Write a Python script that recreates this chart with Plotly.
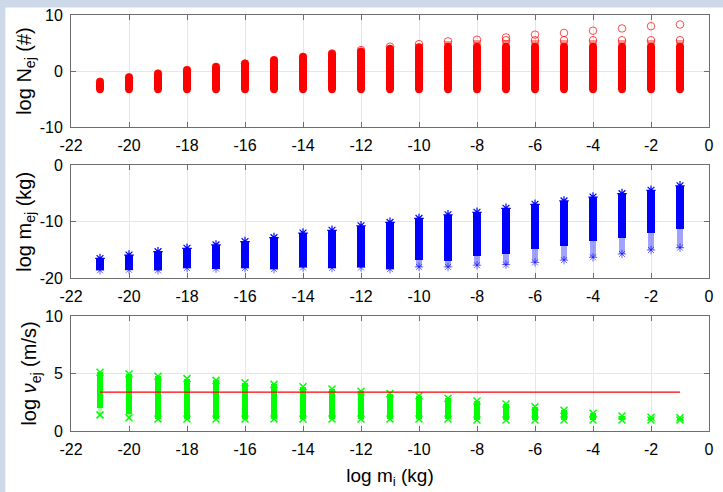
import plotly.graph_objects as go

# ---------------- data ----------------
mi = [-21, -20, -19, -18, -17, -16, -15, -14, -13, -12, -11,
      -10, -9, -8, -7, -6, -5, -4, -3, -2, -1]

# panel 1: log N_ej (#)
nej_min = [-3.3, -3.3, -3.3, -3.3, -3.3, -3.3, -3.3, -3.3, -3.3, -3.3, -3.3,
           -3.3, -3.3, -3.3, -3.3, -3.3, -3.3, -3.3, -3.3, -3.3, -3.3]
nej_dense_max = [-1.9, -1.1, -0.45, 0.2, 0.75, 1.35, 1.95, 2.55, 3.1, 3.55, 4.0,
                 4.3, 4.4, 4.4, 4.4, 4.4, 4.4, 4.4, 4.4, 4.4, 4.4]
nej_faded_max = [-1.9, -1.1, -0.45, 0.2, 0.75, 1.35, 1.95, 2.55, 3.15, 3.75, 4.35,
                 4.8, 5.3, 5.6, 5.5, 5.5, 5.5, 5.5, 5.5, 5.5, 5.5]
nej_out_x = [-7, -6, -5, -4, -3, -2, -1]
nej_out_y = [6.0, 6.5, 6.8, 7.2, 7.6, 8.0, 8.3]

# panel 2: log m_ej (kg)
mej_max = [-16.5, -15.9, -15.3, -14.7, -14.1, -13.5, -12.8, -12.0, -11.5, -10.7, -10.1,
           -9.4, -8.75, -8.3, -7.6, -6.9, -6.3, -5.6, -5.0, -4.4, -3.6]
mej_dense_min = [-18.6, -18.5, -18.6, -18.2, -18.3, -18.2, -18.4, -18.1, -18.2, -18.1, -18.4,
                 -16.8, -17.0, -16.0, -15.7, -14.8, -14.3, -13.4, -12.8, -11.9, -11.3]
mej_tail_min = [-18.6, -18.5, -18.6, -18.2, -18.3, -18.2, -18.4, -18.1, -18.2, -18.1, -18.4,
                -18.0, -18.0, -17.7, -17.6, -17.2, -16.8, -16.3, -15.7, -15.0, -14.6]

# panel 3: log v_ej (m/s)
vej_max = [5.1, 4.95, 4.75, 4.55, 4.4, 4.2, 4.05, 3.85, 3.65, 3.45, 3.25,
           3.05, 2.85, 2.6, 2.35, 2.1, 1.8, 1.55, 1.3, 1.2, 1.15]
vej_dense_min = [2.0, 1.5, 1.05, 1.05, 1.05, 1.05, 1.05, 1.05, 1.05, 1.05, 1.05,
                 1.05, 1.05, 0.95, 0.95, 0.95, 0.95, 0.95, 0.95, 0.95, 0.95]
vej_min = [1.4, 1.15, 1.05, 1.05, 1.05, 1.05, 1.05, 1.05, 1.05, 1.05, 1.05,
           1.05, 1.05, 0.95, 0.95, 0.95, 0.95, 0.95, 0.95, 0.95, 0.95]
esc_x = [-21, -1]
esc_v = [3.37, 3.37]

x_tickvals = [-22, -20, -18, -16, -14, -12, -10, -8, -6, -4, -2, 0]
x_ticktext = ['-22', '-20', '-18', '-16', '-14', '-12', '-10', '-8', '-6', '-4', '-2', '0']
y1_tickvals = [-10, 0, 10]
y1_ticktext = ['-10', '0', '10']
y2_tickvals = [-20, -10, 0]
y2_ticktext = ['-20', '-10', '0']
y3_tickvals = [0, 5, 10]
y3_ticktext = ['0', '5', '10']

RED = '#ff0000'
BLUE = '#0000ff'
GREEN = '#00ff00'
FRAME_BG = '#cdd9e8'

fig = go.Figure()


def span(a, b):
    return [bb - aa for aa, bb in zip(a, b)]


# ---- panel 1 ----
fig.add_bar(x=mi, base=nej_dense_max, y=span(nej_dense_max, nej_faded_max), width=0.26,
            marker=dict(color='rgba(255,60,60,0.55)', line=dict(width=0)),
            xaxis='x', yaxis='y', showlegend=False)
fig.add_bar(x=mi, base=nej_min, y=span(nej_min, nej_dense_max), width=0.26,
            marker=dict(color=RED, line=dict(width=0)),
            xaxis='x', yaxis='y', showlegend=False)
fig.add_scatter(x=mi + mi, y=nej_min + nej_dense_max, mode='markers',
                marker=dict(symbol='circle', size=7.5, color=RED, line=dict(width=0)),
                xaxis='x', yaxis='y', showlegend=False)
fig.add_scatter(x=mi + nej_out_x, y=nej_faded_max + nej_out_y, mode='markers',
                marker=dict(symbol='circle-open', size=7.5, color='rgba(255,0,0,0.7)',
                            line=dict(width=1)),
                xaxis='x', yaxis='y', showlegend=False)

# ---- panel 2 ----
fig.add_bar(x=mi, base=mej_tail_min, y=span(mej_tail_min, mej_dense_min), width=0.2,
            marker=dict(color='rgba(70,70,255,0.5)', line=dict(width=0)),
            xaxis='x2', yaxis='y2', showlegend=False)
fig.add_bar(x=mi, base=mej_dense_min, y=span(mej_dense_min, mej_max), width=0.26,
            marker=dict(color=BLUE, line=dict(width=0)),
            xaxis='x2', yaxis='y2', showlegend=False)
fig.add_scatter(x=mi, y=mej_max, mode='markers',
                marker=dict(symbol='asterisk-open', size=8, color=BLUE,
                            line=dict(width=1.2, color=BLUE)),
                xaxis='x2', yaxis='y2', showlegend=False)
fig.add_scatter(x=mi, y=mej_tail_min, mode='markers',
                marker=dict(symbol='asterisk-open', size=7, color='rgba(0,0,255,0.6)',
                            line=dict(width=1, color='rgba(0,0,255,0.6)')),
                xaxis='x2', yaxis='y2', showlegend=False)

# ---- panel 3 ----
fig.add_bar(x=mi, base=vej_min, y=span(vej_min, vej_dense_min), width=0.17,
            marker=dict(color='rgba(90,255,90,0.5)', line=dict(width=0)),
            xaxis='x3', yaxis='y3', showlegend=False)
fig.add_bar(x=mi, base=vej_dense_min, y=span(vej_dense_min, vej_max), width=0.19,
            marker=dict(color=GREEN, line=dict(width=0)),
            xaxis='x3', yaxis='y3', showlegend=False)
fig.add_scatter(x=mi + mi, y=vej_max + vej_min, mode='markers',
                marker=dict(symbol='x-thin-open', size=7, color=GREEN,
                            line=dict(width=1.5, color=GREEN)),
                xaxis='x3', yaxis='y3', showlegend=False)
fig.add_scatter(x=esc_x, y=esc_v, mode='lines', line=dict(color='rgb(255,0,0)', width=1.3),
                xaxis='x3', yaxis='y3', showlegend=False)

TICKFONT = dict(family='Liberation Sans, Arial, sans-serif', size=16, color='#000000')
TITLEFONT = dict(family='Liberation Sans, Arial, sans-serif', size=20, color='#000000')
FRAME = '#6e6e6e'
GRID = '#e6e6e6'

common_x = dict(range=[-22, 0], tickmode='array', tickvals=x_tickvals, ticktext=x_ticktext,
                showline=True, linecolor=FRAME, linewidth=1, mirror='ticks',
                ticks='inside', ticklen=5, tickcolor=FRAME, showgrid=True, gridcolor=GRID,
                gridwidth=1, zeroline=False, tickfont=TICKFONT, ticklabelstandoff=4,
                automargin=False, fixedrange=True)
common_y = dict(showline=True, linecolor=FRAME, linewidth=1, mirror='ticks',
                ticks='inside', ticklen=5, tickcolor=FRAME, showgrid=True, gridcolor=GRID,
                gridwidth=1, zeroline=False, tickfont=TICKFONT, ticklabelstandoff=4,
                automargin=False, fixedrange=True)

fig.update_layout(
    width=723, height=492,
    margin=dict(l=70.7, r=13.7, t=15, b=61.3),
    paper_bgcolor=FRAME_BG,
    plot_bgcolor='#ffffff',
    barmode='overlay',
    bargap=0,
    showlegend=False,
    hovermode=False,
    xaxis=dict(common_x, domain=[0, 1], anchor='y'),
    xaxis2=dict(common_x, domain=[0, 1], anchor='y2'),
    xaxis3=dict(common_x, domain=[0, 1], anchor='y3',
                title=dict(text='log m<sub>i</sub> (kg)', font=dict(TITLEFONT, size=19),
                           standoff=11)),
    yaxis=dict(common_y, domain=[0.7306, 1.0], anchor='x', range=[-10, 10],
               tickmode='array', tickvals=y1_tickvals, ticktext=y1_ticktext,
               title=dict(text='log N<sub>ej</sub> (#)', font=TITLEFONT, standoff=2)),
    yaxis2=dict(common_y, domain=[0.3673, 0.6384], anchor='x2', range=[-20, 0],
                tickmode='array', tickvals=y2_tickvals, ticktext=y2_ticktext,
                title=dict(text='log m<sub>ej</sub> (kg)', font=TITLEFONT, standoff=2)),
    yaxis3=dict(common_y, domain=[0.0, 0.2766], anchor='x3', range=[0, 10],
                tickmode='array', tickvals=y3_tickvals, ticktext=y3_ticktext,
                title=dict(text='log <i>ν</i><sub>ej</sub> (m/s)', font=TITLEFONT, standoff=2)),
    shapes=[dict(type='rect', xref='paper', yref='paper', layer='below',
                 x0=-0.1029, x1=1.03, y0=-0.16, y1=1.0183,
                 fillcolor='#ffffff', line=dict(width=0))],
)

fig.write_html('out.html',
               config={'displayModeBar': False, 'staticPlot': True},
               post_script="document.body.style.margin='0px';"
                           "document.body.style.padding='0px';"
                           "document.body.style.background='" + FRAME_BG + "';"
                           "document.body.style.overflow='hidden';")
